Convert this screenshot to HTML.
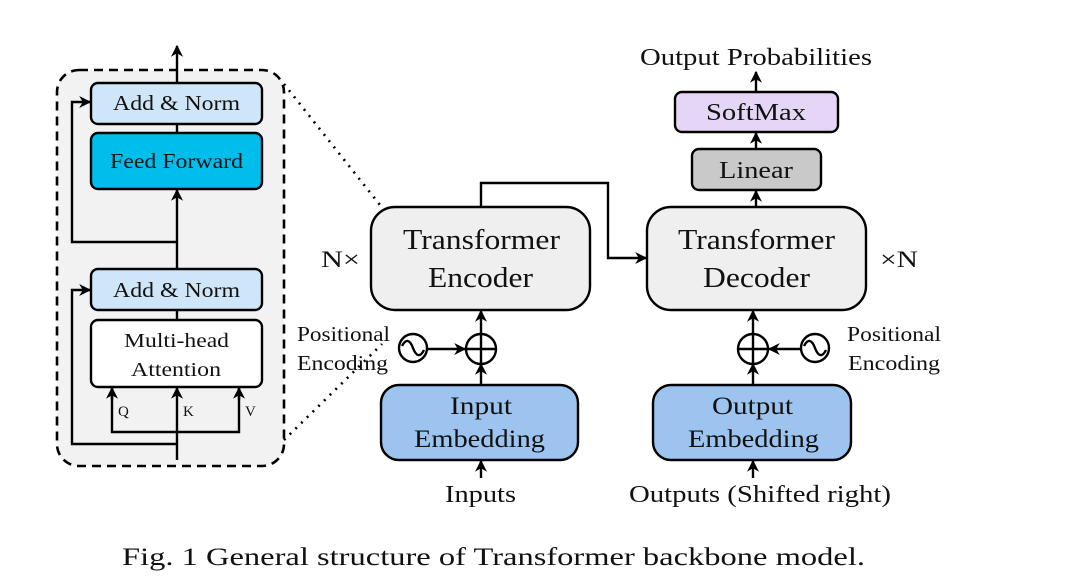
<!DOCTYPE html>
<html><head><meta charset="utf-8"><style>
html,body{margin:0;padding:0;background:#fff}
svg{display:block}
text{font-family:"Liberation Serif",serif;fill:#111}
</style></head><body>
<svg width="1080" height="580" viewBox="0 0 1080 580" xmlns="http://www.w3.org/2000/svg">
<defs>
<marker id="a" viewBox="0 0 10 10" refX="9" refY="5" markerWidth="13" markerHeight="12" markerUnits="userSpaceOnUse" orient="auto"><path d="M0,0 L10,5 L0,10 L3,5 z" fill="#000"/></marker>
</defs>
<g stroke="#000" stroke-width="2.4" fill="none">
<rect x="57" y="70" width="227" height="396" rx="22" fill="#f2f2f2" stroke-dasharray="9,6" stroke-width="2.6"/>
<line x1="284" y1="84" x2="380" y2="205" stroke-dasharray="2,6" stroke-width="2.6"/>
<line x1="284" y1="440" x2="382" y2="344" stroke-dasharray="2,6" stroke-width="2.6"/>
<line x1="177" y1="83" x2="177" y2="46" marker-end="url(#a)"/>
<line x1="177" y1="124" x2="177" y2="133"/>
<line x1="177" y1="269" x2="177" y2="190" marker-end="url(#a)"/>
<line x1="177" y1="310" x2="177" y2="320"/>
<polyline points="177,242 72,242 72,102 90,102" marker-end="url(#a)"/>
<polyline points="177,444 72,444 72,290 90,290" marker-end="url(#a)"/>
<line x1="177" y1="460" x2="177" y2="388" marker-end="url(#a)"/>
<polyline points="112,388 112,432 239,432 239,388"/>
<line x1="112" y1="400" x2="112" y2="388" marker-end="url(#a)"/>
<line x1="239" y1="400" x2="239" y2="388" marker-end="url(#a)"/>
<rect x="91" y="83" width="171" height="41" rx="7" fill="#cfe6f8"/>
<rect x="91" y="133" width="171" height="56" rx="7" fill="#00bdec"/>
<rect x="91" y="269" width="171" height="41" rx="7" fill="#cfe6f8"/>
<rect x="91" y="320" width="171" height="67" rx="7" fill="#fff"/>
<polyline points="481,207 481,183 608,183 608,258 646,258" marker-end="url(#a)"/>
<rect x="371" y="207" width="219" height="103" rx="24" fill="#efefef"/>
<rect x="647" y="207" width="219" height="103" rx="24" fill="#efefef"/>
<line x1="481" y1="385" x2="481" y2="364" marker-end="url(#a)"/>
<line x1="481" y1="334" x2="481" y2="311" marker-end="url(#a)"/>
<circle cx="481" cy="349" r="15"/>
<line x1="466" y1="349" x2="496" y2="349"/><line x1="481" y1="334" x2="481" y2="364"/>
<circle cx="413" cy="348" r="14"/>
<path d="M402,346 C406,338 410,340 413,348 C416,356 420,358 424,350"/>
<line x1="427" y1="349" x2="465" y2="349" marker-end="url(#a)"/>
<line x1="753" y1="385" x2="753" y2="364" marker-end="url(#a)"/>
<line x1="753" y1="334" x2="753" y2="311" marker-end="url(#a)"/>
<circle cx="753" cy="349" r="15"/>
<line x1="738" y1="349" x2="768" y2="349"/><line x1="753" y1="334" x2="753" y2="364"/>
<circle cx="815" cy="348" r="14"/>
<path d="M804,346 C808,338 812,340 815,348 C818,356 822,358 826,350"/>
<line x1="801" y1="349" x2="769" y2="349" marker-end="url(#a)"/>
<rect x="381" y="385" width="197" height="75" rx="18" fill="#9cc4ef"/>
<rect x="653" y="385" width="198" height="75" rx="18" fill="#9cc4ef"/>
<line x1="481" y1="478" x2="481" y2="461" marker-end="url(#a)"/>
<line x1="753" y1="478" x2="753" y2="461" marker-end="url(#a)"/>
<line x1="756" y1="207" x2="756" y2="191" marker-end="url(#a)"/>
<line x1="756" y1="149" x2="756" y2="133" marker-end="url(#a)"/>
<line x1="756" y1="92" x2="756" y2="72" marker-end="url(#a)"/>
<rect x="692" y="149" width="129" height="41" rx="7" fill="#c9c9c9"/>
<rect x="675" y="92" width="163" height="40" rx="7" fill="#e6d6f5"/>
</g>
<g>
<text x="113" y="110" font-size="21" textLength="127" lengthAdjust="spacingAndGlyphs">Add &amp; Norm</text>
<text x="110" y="168" font-size="21" textLength="133" lengthAdjust="spacingAndGlyphs">Feed Forward</text>
<text x="113" y="297" font-size="21" textLength="127" lengthAdjust="spacingAndGlyphs">Add &amp; Norm</text>
<text x="124" y="347" font-size="20" textLength="105" lengthAdjust="spacingAndGlyphs">Multi-head</text>
<text x="131" y="376" font-size="20" textLength="90" lengthAdjust="spacingAndGlyphs">Attention</text>
<text x="403" y="249" font-size="29" textLength="157" lengthAdjust="spacingAndGlyphs">Transformer</text>
<text x="428" y="287" font-size="29" textLength="105" lengthAdjust="spacingAndGlyphs">Encoder</text>
<text x="678" y="249" font-size="29" textLength="157" lengthAdjust="spacingAndGlyphs">Transformer</text>
<text x="703" y="287" font-size="29" textLength="107" lengthAdjust="spacingAndGlyphs">Decoder</text>
<text x="450" y="414" font-size="25" textLength="62" lengthAdjust="spacingAndGlyphs">Input</text>
<text x="414" y="447" font-size="25" textLength="131" lengthAdjust="spacingAndGlyphs">Embedding</text>
<text x="712" y="414" font-size="25" textLength="81" lengthAdjust="spacingAndGlyphs">Output</text>
<text x="688" y="447" font-size="25" textLength="131" lengthAdjust="spacingAndGlyphs">Embedding</text>
<text x="445" y="502" font-size="24" textLength="71" lengthAdjust="spacingAndGlyphs">Inputs</text>
<text x="629" y="502" font-size="24" textLength="262" lengthAdjust="spacingAndGlyphs">Outputs (Shifted right)</text>
<text x="706" y="120" font-size="24" textLength="100" lengthAdjust="spacingAndGlyphs">SoftMax</text>
<text x="719" y="178" font-size="24" textLength="74" lengthAdjust="spacingAndGlyphs">Linear</text>
<text x="640" y="65" font-size="24" textLength="232" lengthAdjust="spacingAndGlyphs">Output Probabilities</text>
<text x="321" y="267" font-size="23" textLength="39" lengthAdjust="spacingAndGlyphs">N×</text>
<text x="880" y="267" font-size="23" textLength="38" lengthAdjust="spacingAndGlyphs">×N</text>
<text x="297" y="341" font-size="21" textLength="93" lengthAdjust="spacingAndGlyphs">Positional</text>
<text x="297" y="370" font-size="21" textLength="91" lengthAdjust="spacingAndGlyphs">Encoding</text>
<text x="847" y="341" font-size="21" textLength="94" lengthAdjust="spacingAndGlyphs">Positional</text>
<text x="848" y="370" font-size="21" textLength="92" lengthAdjust="spacingAndGlyphs">Encoding</text>
<text x="122" y="565" font-size="25" textLength="743" lengthAdjust="spacingAndGlyphs">Fig. 1 General structure of Transformer backbone model.</text>
</g>
<g font-size="15">
<text x="118" y="416">Q</text><text x="183" y="416">K</text><text x="245" y="416">V</text>
</g>
</svg>
</body></html>
